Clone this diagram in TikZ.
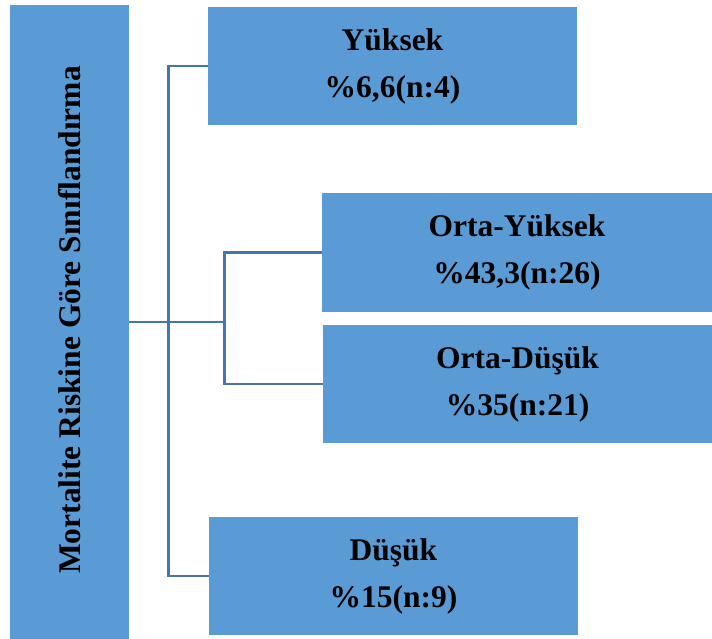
\documentclass[tikz,border=0pt]{standalone}
\usepackage{fontspec}
\setmainfont{Liberation Serif}
\definecolor{boxblue}{HTML}{5B9BD5}
\definecolor{linkblue}{HTML}{4675AA}
\begin{document}
\begin{tikzpicture}[x=1pt,y=-1pt,
  catbox/.style={fill=boxblue, draw=none, inner sep=0pt, align=center,
    font=\fontsize{31.5}{47}\selectfont\bfseries},
  link/.style={draw=linkblue, line width=2.7pt}]
  \useasboundingbox (0,0) rectangle (712,639);

  % root category, text running bottom to top
  \node[catbox, minimum width=119pt, minimum height=634pt] (root) at (69.5,322) {};
  \node[font=\fontsize{31.5}{47}\selectfont\bfseries, rotate=90, inner sep=0pt]
    (roottext) at (69.5,320) {Mortalite Riskine Göre Sınıflandırma};

  % risk classes
  \node[catbox, minimum width=369pt, minimum height=118pt] (yuksek) at (392.5,66)
    {Yüksek\\\%6,6(n:4)};
  \node[catbox, minimum width=390pt, minimum height=119pt] (ortayuksek) at (517,252.5)
    {Orta-Yüksek\\\%43,3(n:26)};
  \node[catbox, minimum width=389pt, minimum height=118pt] (ortadusuk) at (517.5,384)
    {Orta-Düşük\\\%35(n:21)};
  \node[catbox, minimum width=369pt, minimum height=118pt] (dusuk) at (393.5,576)
    {Düşük\\\%15(n:9)};

  % connectors
  \draw[link] (root.east) -- ++(96,0);
  \draw[link] (yuksek.west) -- ++(-39,0) |- (dusuk.west);
  \draw[link] (ortayuksek.west) -- ++(-97,0) |- (ortadusuk.west);
\end{tikzpicture}
\end{document}
